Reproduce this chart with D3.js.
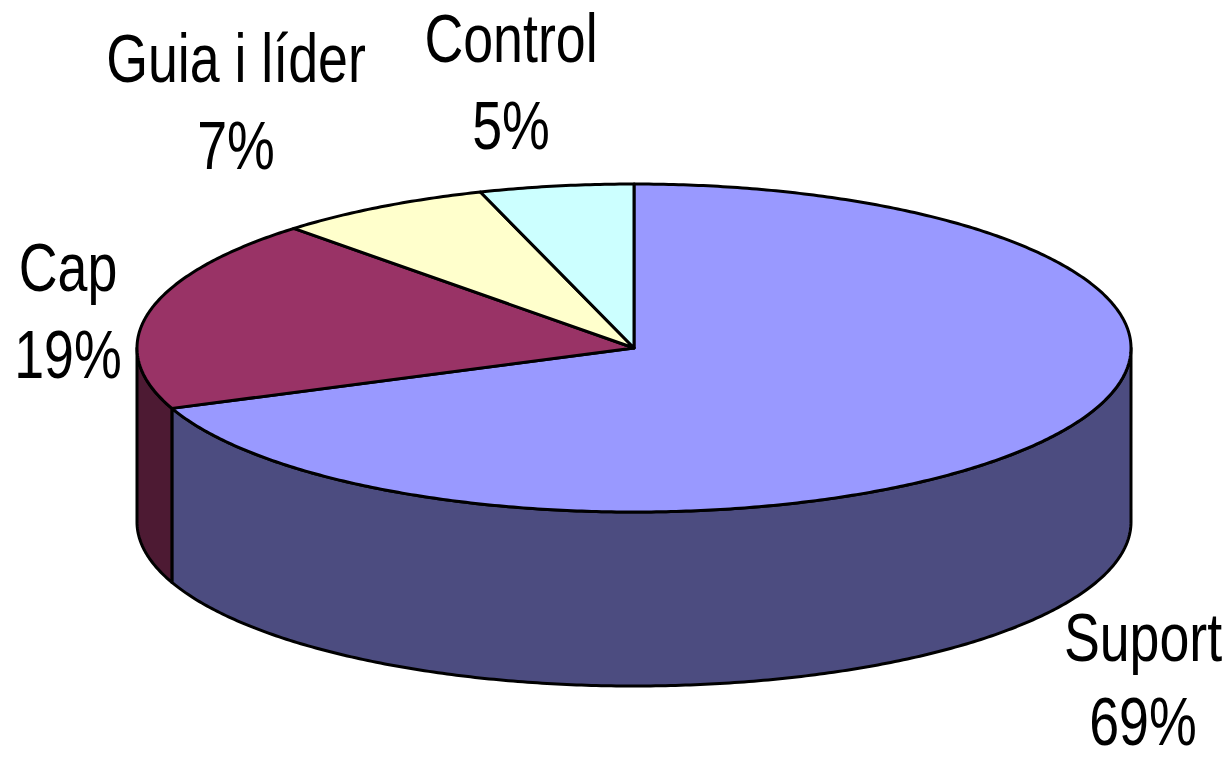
<!DOCTYPE html>
<html>
<head>
<meta charset="utf-8">
<script src="https://cdn.jsdelivr.net/npm/d3@7"></script>
<style>
  html, body { margin: 0; padding: 0; background: #ffffff; }
  svg { display: block; }
</style>
</head>
<body>
<svg id="chart" width="1231" height="758"></svg>
<script>
// ---- data ----
const categories = ["Suport", "Cap", "Guia i líder", "Control"];
const values = [69, 19, 7, 5];
const percentLabels = ["69%", "19%", "7%", "5%"];
const topColors = ["#9999FF", "#993366", "#FFFFCC", "#CCFFFF"];
const sideColors = ["#4C4C80", "#4D1A33", "#808066", "#668080"];

// ---- layout ----
const W = 1231, H = 758;
const cx = 634, cy = 348, rx = 497, ry = 164, depth = 174;
// label anchors (centre x, first baseline y, line gap)
const labelLayout = [
  { x: 1143, y: 661, gap: 84 },
  { x: 68, y: 291, gap: 87 },
  { x: 236, y: 82, gap: 87 },
  { x: 511, y: 62, gap: 87 }
];

const svg = d3.select("#chart");
const data = categories.map((c, i) => ({ name: c, value: values[i], pct: percentLabels[i], i }));
const arcs = d3.pie().sort(null).value(d => d.value)(data);

const px = a => cx + rx * Math.sin(a);
const py = a => cy - ry * Math.cos(a);

function arcPoints(a0, a1, dy) {
  const n = Math.max(2, Math.ceil(Math.abs(a1 - a0) / 0.01));
  return d3.range(n + 1).map(k => {
    const a = a0 + (a1 - a0) * k / n;
    return [px(a), py(a) + dy];
  });
}
const line = d3.line();

// side walls (front half only: angles between PI/2 and 3PI/2)
const sides = [];
arcs.forEach(d => {
  const s = Math.max(d.startAngle, Math.PI / 2);
  const e = Math.min(d.endAngle, 3 * Math.PI / 2);
  if (e > s) sides.push({ d, s, e });
});

svg.append("g").selectAll("path.side")
  .data(sides)
  .join("path")
  .attr("class", "side")
  .attr("d", o => {
    const top = arcPoints(o.s, o.e, 0);
    const bot = arcPoints(o.e, o.s, depth);
    return line(top.concat(bot)) + "Z";
  })
  .attr("fill", o => sideColors[o.d.data.i])
  .attr("stroke", "#000")
  .attr("stroke-width", 3)
  .attr("stroke-linejoin", "round");

// top faces
svg.append("g").selectAll("path.top")
  .data(arcs)
  .join("path")
  .attr("class", "top")
  .attr("d", d => {
    const pts = [[cx, cy]].concat(arcPoints(d.startAngle, d.endAngle, 0));
    return line(pts) + "Z";
  })
  .attr("fill", d => topColors[d.data.i])
  .attr("stroke", "#000")
  .attr("stroke-width", 3)
  .attr("stroke-linejoin", "round");

// labels
const gLab = svg.append("g")
  .attr("font-family", "'Liberation Sans', Arial, sans-serif")
  .attr("font-size", 68)
  .attr("fill", "#000");

const lab = gLab.selectAll("text")
  .data(data)
  .join("text")
  .attr("text-anchor", "middle")
  .attr("transform", d => `translate(${labelLayout[d.i].x},${labelLayout[d.i].y}) scale(0.79,1)`);
lab.append("tspan").attr("x", 0).attr("y", 0).text(d => d.name);
lab.append("tspan").attr("x", 0).attr("y", d => labelLayout[d.i].gap).text(d => d.pct);
</script>
</body>
</html>
